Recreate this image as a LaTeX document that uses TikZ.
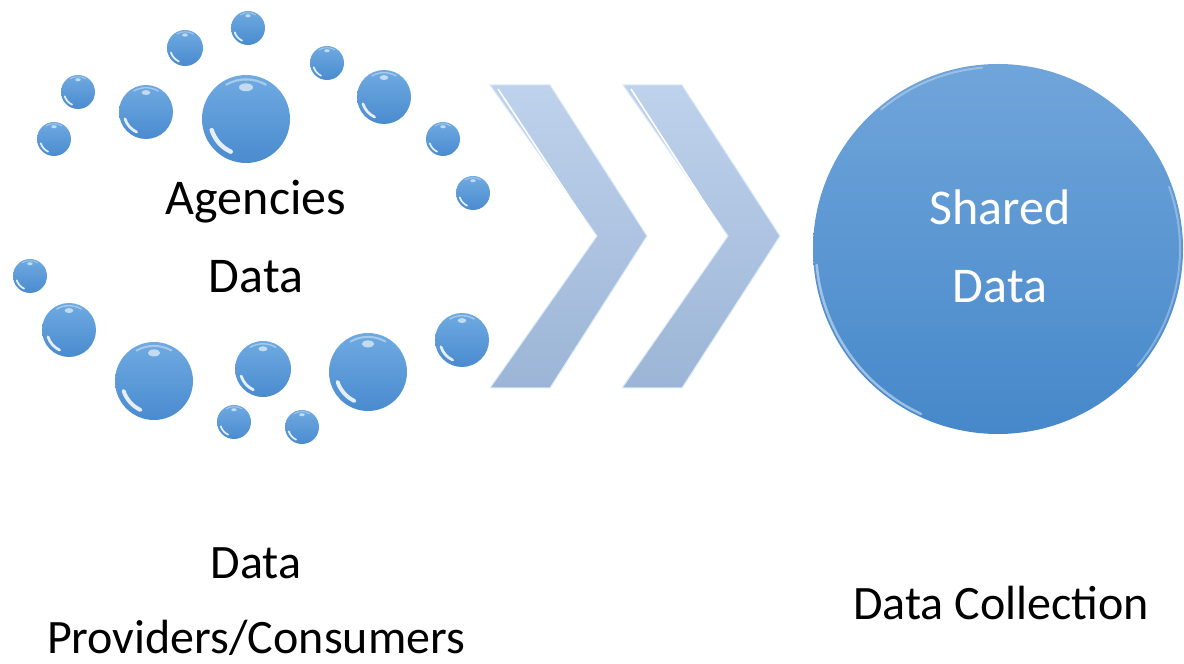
\documentclass[tikz,border=0pt]{standalone}
\usepackage{fontspec}
\setmainfont{Carlito}
\usetikzlibrary{calc}
\definecolor{bubtop}{HTML}{6FAAE1}
\definecolor{bubbot}{HTML}{4A8BCF}
\definecolor{chevtop}{HTML}{BFD2EC}
\definecolor{chevbot}{HTML}{9CB5D6}
\definecolor{chevrim}{HTML}{DCEBFA}
\definecolor{bigtop}{HTML}{70A5DA}
\definecolor{bigbot}{HTML}{4688CA}
\tikzset{
  bubble/.style={circle, inner sep=0pt, minimum size=#1, top color=bubtop, bottom color=bubbot, draw=none},
  chevron/.style={top color=chevtop, bottom color=chevbot, draw=chevrim, line width=1pt, line join=miter},
  bigball/.style={circle, inner sep=0pt, minimum size=370pt, top color=bigtop, bottom color=bigbot, draw=none},
  lbl/.style={anchor=base, inner sep=0pt, font=\fontsize{48}{58}\selectfont, text=black},
  biglbl/.style={lbl, font=\fontsize{50}{60}\selectfont},
  inlbl/.style={biglbl, text=white},
  sheen/.style={white, line cap=round},
}
\newcommand\bub[4]{%
  \node[bubble=#4*2pt] (#1) at (#2,#3) {};
  \draw[sheen, opacity=.85, line width=#4*0.1pt]
    ([shift={(198:#4*0.82pt)}]#1.center) arc[start angle=198, end angle=245, radius=#4*0.82pt];
  \draw[sheen, opacity=.4, line width=#4*0.05pt]
    ([shift={(60:#4*0.9pt)}]#1.center) arc[start angle=60, end angle=120, radius=#4*0.9pt];
  \fill[white, opacity=.6] ([shift={(90:#4*0.72pt)}]#1.center) ellipse[x radius=#4*0.16pt, y radius=#4*0.09pt];
}
\begin{document}
\begin{tikzpicture}[x=1pt,y=1pt]
\useasboundingbox (0,0) rectangle (1184,664);
% bubbles
\bub{b1}{185}{616}{18}
\bub{b2}{248}{636}{17}
\bub{b3}{78}{572}{17}
\bub{b4}{146}{552}{27}
\bub{b5}{246}{545}{44}
\bub{b6}{327}{601}{17}
\bub{b7}{384}{567}{27}
\bub{b8}{54}{525}{17}
\bub{b9}{443}{525}{17}
\bub{b10}{473}{471}{17}
\bub{b11}{30}{388}{17}
\bub{b12}{69}{334}{27}
\bub{b13}{154}{283}{39}
\bub{b14}{263}{295}{28}
\bub{b15}{368}{292}{39}
\bub{b16}{462}{324}{27}
\bub{b17}{234}{242}{17}
\bub{b18}{302}{237}{17}
% chevrons
\coordinate (c1a) at (490,579); \coordinate (c1b) at (550,579);
\coordinate (c1c) at (647,428); \coordinate (c1d) at (550,276);
\coordinate (c1e) at (490,276); \coordinate (c1f) at (597,428);
\coordinate (c2a) at (623,579); \coordinate (c2b) at (682,579);
\coordinate (c2c) at (780,428); \coordinate (c2d) at (682,276);
\coordinate (c2e) at (622,276); \coordinate (c2f) at (728,428);
\path[chevron] (c1a) -- (c1b) -- (c1c) -- (c1d) -- (c1e) -- (c1f) -- cycle;
\path[chevron] (c2a) -- (c2b) -- (c2c) -- (c2d) -- (c2e) -- (c2f) -- cycle;
\draw[white, line width=1.6pt] ($(c1a)+(8,-4)$) -- ($(c1f)+(-2,0)$);
\draw[white, line width=1.6pt] ($(c2a)+(8,-4)$) -- ($(c2f)+(-2,0)$);
% big circle
\node[bigball] (shared) at (998,415) {};
\draw[sheen, opacity=.45, line width=2.5pt] ([shift={(185:182pt)}]shared.center) arc[start angle=185, end angle=245, radius=182pt];
\draw[sheen, opacity=.3, line width=2pt] ([shift={(95:182pt)}]shared.center) arc[start angle=95, end angle=130, radius=182pt];
\draw[sheen, opacity=.3, line width=2pt] ([shift={(-40:182pt)}]shared.center) arc[start angle=-40, end angle=20, radius=182pt];
% labels
\node[biglbl] (ag1) at (256,449) {Agencies};
\node[biglbl] (ag2) at (256,371) {Data};
\node[inlbl] (sh1) at (1000,439) {Shared};
\node[inlbl] (sh2) at (1000,361) {Data};
\node[lbl] (dp1) at (256,85) {Data};
\node[lbl, text depth=0pt] (dp2) at (256,10) {Providers/Consumers};
\node[lbl] (dc) at (1001,44) {Data Collection};
\end{tikzpicture}
\end{document}
